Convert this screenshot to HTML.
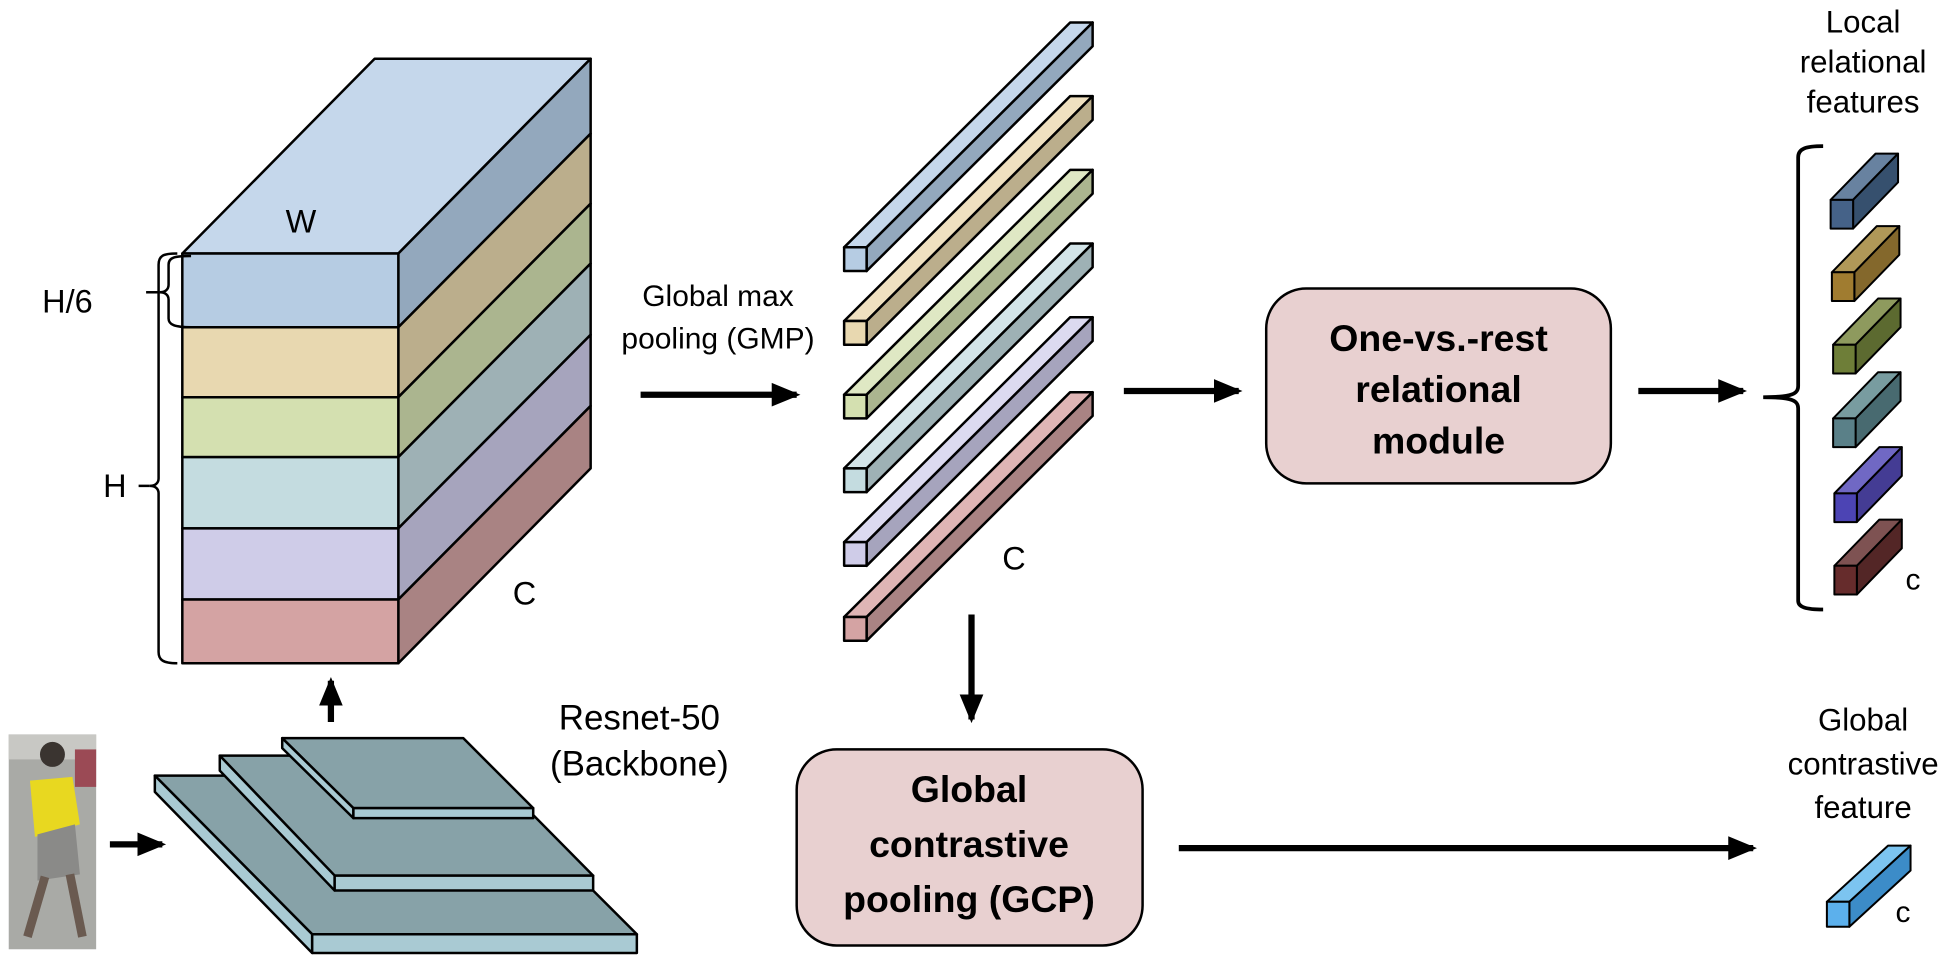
<!DOCTYPE html>
<html><head><meta charset="utf-8"><style>
html,body{margin:0;padding:0;background:#fff;}
svg{display:block;font-family:"Liberation Sans",sans-serif;}
</style></head><body>
<svg width="1958" height="963" viewBox="0 0 1568 771" preserveAspectRatio="none" xmlns="http://www.w3.org/2000/svg">
<defs>
<marker id="ah" markerWidth="5" markerHeight="5" refX="4" refY="2.5" orient="auto" markerUnits="strokeWidth"><path d="M0,0.6 L4.6,2.5 L0,4.4 z" fill="#000"/></marker>
</defs>
<g stroke="#000" stroke-width="2" stroke-linejoin="round">
<polygon points="146,203 319,203 473,47 300,47" fill="#c5d7eb"/>
<polygon points="319,203 473,47 473,107 319,262" fill="#93a8bd"/>
<polygon points="319,262 473,107 473,163 319,318" fill="#bbae8c"/>
<polygon points="319,318 473,163 473,211 319,366" fill="#abb58f"/>
<polygon points="319,366 473,211 473,268 319,423" fill="#9eb1b5"/>
<polygon points="319,423 473,268 473,325 319,480" fill="#a6a4bd"/>
<polygon points="319,480 473,325 473,375 319,531" fill="#a98383"/>
<rect x="146" y="203" width="173" height="59" fill="#b6cce3"/>
<rect x="146" y="262" width="173" height="56" fill="#e8d8b0"/>
<rect x="146" y="318" width="173" height="48" fill="#d4e0b0"/>
<rect x="146" y="366" width="173" height="57" fill="#c4dce0"/>
<rect x="146" y="423" width="173" height="57" fill="#cfcce8"/>
<rect x="146" y="480" width="173" height="51" fill="#d4a3a3"/>
</g>
<g fill="none" stroke="#000" stroke-width="2">
<path d="M153,205 C140,205 135,206 135,212 L135,228 C135,232 132,234 128,234 C132,234 135,236 135,240 L135,255 C135,260 140,262 153,262"/>
<line x1="117" y1="234" x2="128" y2="234"/>
<path d="M142,203 C130,203 127,205 127,212 L127,383 C127,387 124,389 120,389 C124,389 127,391 127,395 L127,522 C127,528 130,531 142,531"/>
<line x1="111" y1="389" x2="120" y2="389"/>
</g>
<text x="241" y="186" font-size="26" text-anchor="middle">W</text>
<text x="420" y="484" font-size="26" text-anchor="middle">C</text>
<text x="54" y="250" font-size="26" text-anchor="middle">H/6</text>
<text x="92" y="398" font-size="26" text-anchor="middle">H</text>
<g stroke="#000" stroke-width="2" stroke-linejoin="round">
<g><polygon points="676,198 694,198 875,18 857,18" fill="#c5d7eb"/><polygon points="694,198 875,18 875,37 694,217" fill="#93a8bd"/><rect x="676" y="198" width="18" height="19" fill="#b6cce3"/></g>
<g><polygon points="676,257 694,257 875,77 857,77" fill="#efe0c0"/><polygon points="694,257 875,77 875,96 694,276" fill="#bbae8c"/><rect x="676" y="257" width="18" height="19" fill="#e8d8b0"/></g>
<g><polygon points="676,316 694,316 875,136 857,136" fill="#dfe8c4"/><polygon points="694,316 875,136 875,155 694,335" fill="#abb58f"/><rect x="676" y="316" width="18" height="19" fill="#d4e0b0"/></g>
<g><polygon points="676,375 694,375 875,195 857,195" fill="#d3e4e8"/><polygon points="694,375 875,195 875,214 694,394" fill="#9eb1b5"/><rect x="676" y="375" width="18" height="19" fill="#c4dce0"/></g>
<g><polygon points="676,434 694,434 875,254 857,254" fill="#dcdaf0"/><polygon points="694,434 875,254 875,273 694,453" fill="#a6a4bd"/><rect x="676" y="434" width="18" height="19" fill="#cfcce8"/></g>
<g><polygon points="676,494 694,494 875,314 857,314" fill="#dfb5b5"/><polygon points="694,494 875,314 875,333 694,513" fill="#a98383"/><rect x="676" y="494" width="18" height="19" fill="#d4a3a3"/></g>
</g>
<text x="812" y="456" font-size="26" text-anchor="middle">C</text>
<text x="575" y="245" font-size="24" text-anchor="middle">Global max</text>
<text x="575" y="279" font-size="24" text-anchor="middle">pooling (GMP)</text>
<g stroke="#000" stroke-width="5" fill="none" marker-end="url(#ah)">
<line x1="88" y1="676" x2="130" y2="676"/>
<line x1="265" y1="578" x2="265" y2="545"/>
<line x1="513" y1="316" x2="638" y2="316"/>
<line x1="900" y1="313" x2="992" y2="313"/>
<line x1="1312" y1="313" x2="1396" y2="313"/>
<line x1="778" y1="492" x2="778" y2="576"/>
<line x1="944" y1="679" x2="1404" y2="679"/>
</g>
<rect x="1014" y="231" width="276" height="156" rx="32" fill="#e8d0d0" stroke="#000" stroke-width="2"/>
<g font-size="30" font-weight="bold" text-anchor="middle">
<text x="1152" y="281">One-vs.-rest</text>
<text x="1152" y="322">relational</text>
<text x="1152" y="363">module</text>
</g>
<rect x="638" y="600" width="277" height="157" rx="32" fill="#e8d0d0" stroke="#000" stroke-width="2"/>
<g font-size="30" font-weight="bold" text-anchor="middle">
<text x="776" y="642">Global</text>
<text x="776" y="686">contrastive</text>
<text x="776" y="730">pooling (GCP)</text>
</g>
<g stroke="#000" stroke-width="2" stroke-linejoin="round">
<polygon points="124,621 383,621 510,748 250,748" fill="#87a2a8"/>
<polygon points="124,621 250,748 250,763 124,634" fill="#a9cad3"/>
<rect x="250" y="748" width="260" height="15" fill="#a9cad3"/>
<polygon points="176,605 380,605 475,701 268,701" fill="#87a2a8"/>
<polygon points="176,605 268,701 268,713 176,617" fill="#a9cad3"/>
<rect x="268" y="701" width="207" height="12" fill="#a9cad3"/>
<polygon points="226,591 371,591 427,647 283,647" fill="#87a2a8"/>
<polygon points="226,591 283,647 283,655 226,599" fill="#a9cad3"/>
<rect x="283" y="647" width="144" height="8" fill="#a9cad3"/>
</g>
<text x="512" y="584" font-size="28" text-anchor="middle">Resnet-50</text>
<text x="512" y="621" font-size="28" text-anchor="middle">(Backbone)</text>
<rect x="7" y="588" width="70" height="172" fill="#a9aaa6"/>
<rect x="7" y="588" width="70" height="20" fill="#c8c8c4"/>
<circle cx="42" cy="604" r="10" fill="#3a3430"/>
<rect x="60" y="600" width="17" height="30" fill="#9b4a55"/>
<polygon points="24,625 58,622 64,660 28,670" fill="#e8d820"/>
<polygon points="30,668 60,660 64,700 30,705" fill="#8a8a88"/>
<line x1="36" y1="702" x2="22" y2="750" stroke="#6a5a50" stroke-width="7"/>
<line x1="56" y1="700" x2="66" y2="750" stroke="#6a5a50" stroke-width="7"/>
<path d="M1460,117 C1446,117 1440,119 1440,126 L1440,309 C1440,315 1436,318 1412,318 C1436,318 1440,321 1440,327 L1440,481 C1440,486 1446,488 1460,488" fill="none" stroke="#000" stroke-width="3"/>
<g stroke="#000" stroke-width="1.6" stroke-linejoin="round">
<g><polygon points="1466,160 1484,160 1520,123 1502,123" fill="#6882a0"/><polygon points="1484,160 1520,123 1520,146 1484,183" fill="#36506e"/><rect x="1466" y="160" width="18" height="23" fill="#456288"/></g>
<g><polygon points="1467,218 1485,218 1521,181 1503,181" fill="#b09858"/><polygon points="1485,218 1521,181 1521,204 1485,241" fill="#84682c"/><rect x="1467" y="218" width="18" height="23" fill="#a07c30"/></g>
<g><polygon points="1468,276 1486,276 1522,239 1504,239" fill="#8e9a5e"/><polygon points="1486,276 1522,239 1522,262 1486,299" fill="#5c6a30"/><rect x="1468" y="276" width="18" height="23" fill="#6e7e38"/></g>
<g><polygon points="1468,335 1486,335 1522,298 1504,298" fill="#789ca0"/><polygon points="1486,335 1522,298 1522,321 1486,358" fill="#486a70"/><rect x="1468" y="335" width="18" height="23" fill="#5a8088"/></g>
<g><polygon points="1469,395 1487,395 1523,358 1505,358" fill="#7068c4"/><polygon points="1487,395 1523,358 1523,381 1487,418" fill="#443c94"/><rect x="1469" y="395" width="18" height="23" fill="#4c44b4"/></g>
<g><polygon points="1469,453 1487,453 1523,416 1505,416" fill="#7e5252"/><polygon points="1487,453 1523,416 1523,439 1487,476" fill="#532626"/><rect x="1469" y="453" width="18" height="23" fill="#662c2c"/></g>
<g><polygon points="1463,722 1481,722 1530,677 1512,677" fill="#7cc4f0"/><polygon points="1481,722 1530,677 1530,697 1481,742" fill="#3c8cc8"/><rect x="1463" y="722" width="18" height="20" fill="#5cb0ec"/></g>
</g>
<text x="1532" y="472" font-size="24" text-anchor="middle">c</text>
<text x="1524" y="738" font-size="24" text-anchor="middle">c</text>
<g font-size="25" text-anchor="middle">
<text x="1492" y="26">Local</text>
<text x="1492" y="58">relational</text>
<text x="1492" y="90">features</text>
<text x="1492" y="585">Global</text>
<text x="1492" y="620">contrastive</text>
<text x="1492" y="655">feature</text>
</g>
</svg>
</body></html>
